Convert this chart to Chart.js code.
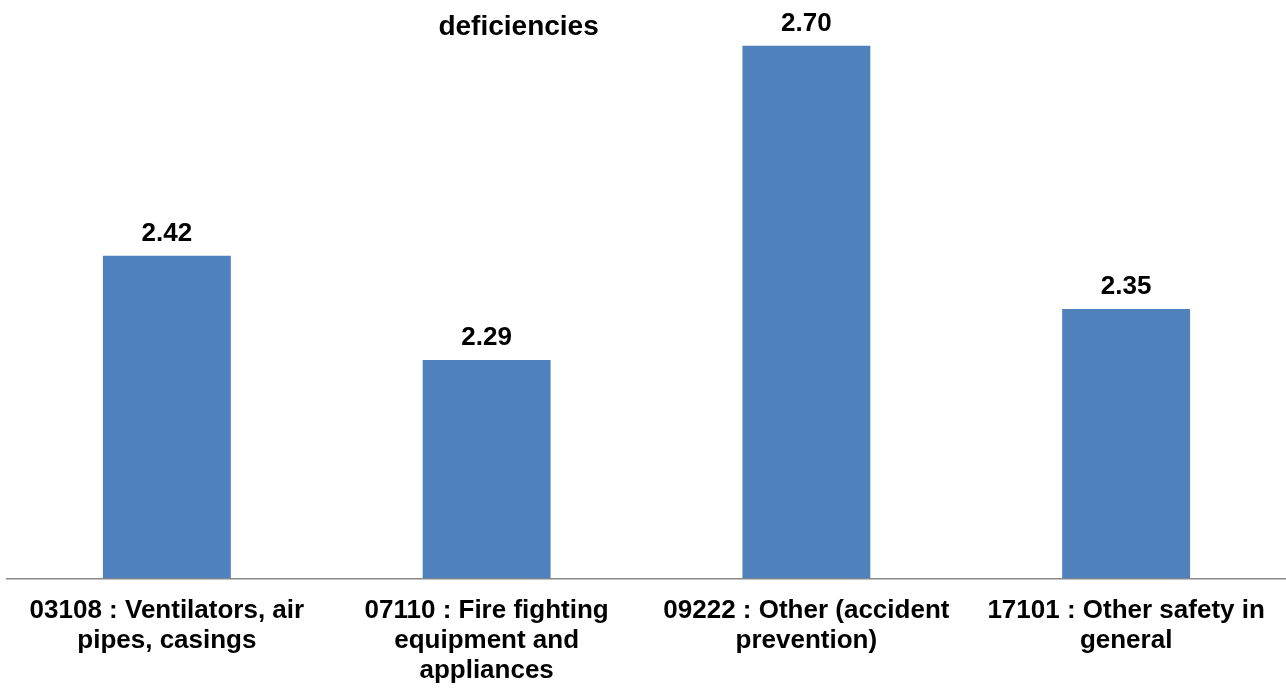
<!DOCTYPE html>
<html>
<head>
<meta charset="utf-8">
<script src="https://cdn.jsdelivr.net/npm/chart.js@4"></script>
<style>
  html, body { margin: 0; padding: 0; background: #fff; }
  #wrap { width: 1286px; height: 692px; }
</style>
</head>
<body>
<div id="wrap"><canvas id="barChart"></canvas></div>
<script>
const categories = [
    ['03108 : Ventilators, air', 'pipes, casings'],
    ['07110 : Fire fighting', 'equipment and', 'appliances'],
    ['09222 : Other (accident', 'prevention)'],
    ['17101 : Other safety in', 'general']
];
const averages = [2.424, 2.287, 2.70, 2.354];
const titleText = 'deficiencies';

const FONT = '"Liberation Sans", Arial, Helvetica, sans-serif';

// draws the value above each bar and the (cut off) title line
const valueLabels = {
    id: 'valueLabels',
    afterDatasetsDraw(chart) {
        const ctx = chart.ctx;
        const meta = chart.getDatasetMeta(0);
        ctx.save();
        ctx.fillStyle = '#000';
        ctx.font = 'bold 26px ' + FONT;
        ctx.textAlign = 'center';
        ctx.textBaseline = 'alphabetic';
        meta.data.forEach((bar, i) => {
            ctx.fillText(averages[i].toFixed(2), bar.x, bar.y - 15);
        });
        const area = chart.chartArea;
        ctx.font = 'bold 28px ' + FONT;
        ctx.fillText(titleText, area.left + area.width * 0.4, 35);
        ctx.restore();
    }
};

new Chart(document.getElementById('barChart'), {
    type: 'bar',
    data: {
        labels: categories,
        datasets: [{
            data: averages,
            backgroundColor: '#4F81BD',
            borderWidth: 0,
            categoryPercentage: 1,
            barPercentage: 0.4
        }]
    },
    options: {
        responsive: true,
        maintainAspectRatio: false,
        animation: false,
        layout: { padding: { left: 7, right: 0, top: 0, bottom: -12 } },
        plugins: {
            legend: { display: false },
            tooltip: { enabled: false }
        },
        scales: {
            x: {
                grid: { display: false, drawTicks: false },
                border: { display: true, color: '#888', width: 1.5 },
                ticks: {
                    color: '#000',
                    padding: 18,
                    maxRotation: 0,
                    autoSkip: false,
                    font: { family: FONT, size: 26, weight: 'bold', lineHeight: 1.15 }
                }
            },
            y: {
                display: false,
                min: 2.0,
                max: 2.76
            }
        }
    },
    plugins: [valueLabels]
});
</script>
</body>
</html>
